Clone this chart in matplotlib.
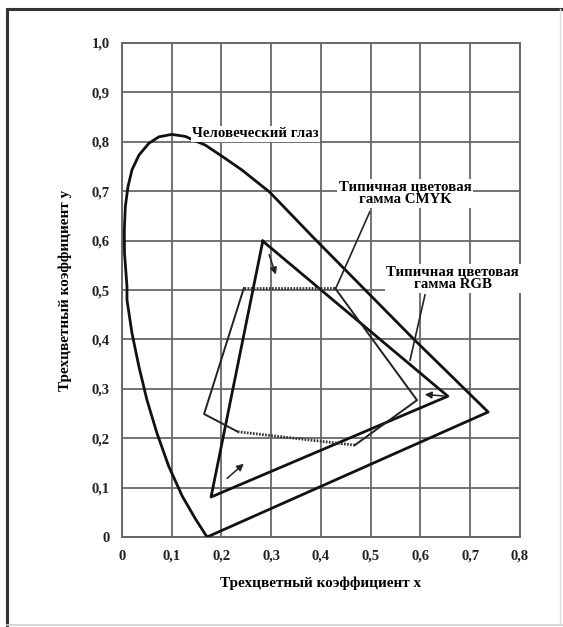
#!/usr/bin/env python3

"""CIE xy diagram with typical RGB and CMYK gamuts."""

import matplotlib.pyplot as plt
from matplotlib.patches import FancyArrowPatch

plt.rcParams["font.family"] = ["Liberation Serif", "DejaVu Serif"]
plt.rcParams["font.weight"] = "bold"

# spectral locus, closed by the purple line
locus_x = [0.171, 0.148, 0.121, 0.094, 0.070, 0.050, 0.034, 0.020, 0.010, 0.010,
           0.005, 0.0047, 0.0067, 0.012, 0.020, 0.034, 0.054, 0.074, 0.100, 0.127,
           0.168, 0.208, 0.241, 0.297, 0.384, 0.585, 0.736, 0.171]
locus_y = [0.0, 0.036, 0.083, 0.143, 0.211, 0.278, 0.345, 0.413, 0.48, 0.507,
           0.575, 0.622, 0.669, 0.709, 0.743, 0.773, 0.797, 0.81, 0.815, 0.811,
           0.793, 0.766, 0.743, 0.698, 0.607, 0.402, 0.253, 0.0]

# RGB triangle
rgb_x = [0.283, 0.655, 0.179, 0.283]
rgb_y = [0.599, 0.285, 0.081, 0.599]

# CMYK polygon: solid and dotted parts
cmyk_solid_x = [0.428, 0.593, 0.468]
cmyk_solid_y = [0.504, 0.277, 0.186]
cmyk_solid2_x = [0.233, 0.165, 0.245]
cmyk_solid2_y = [0.213, 0.249, 0.504]
cmyk_dot_x = [[0.245, 0.428], [0.468, 0.233]]
cmyk_dot_y = [[0.504, 0.504], [0.186, 0.213]]

# arrows (start, end)
arrows = [((0.294, 0.577), (0.311, 0.526)),
          ((0.207, 0.115), (0.249, 0.152)),
          ((0.653, 0.285), (0.603, 0.289))]

xticks = [0, 0.1, 0.2, 0.3, 0.4, 0.5, 0.6, 0.7, 0.8]
xlabs = ["0", "0,1", "0,2", "0,3", "0,4", "0,5", "0,6", "0,7", "0,8"]
yticks = [0, 0.1, 0.2, 0.3, 0.4, 0.5, 0.6, 0.7, 0.8, 0.9, 1.0]
ylabs = ["0", "0,1", "0,2", "0,3", "0,4", "0,5", "0,6", "0,7", "0,8", "0,9", "1,0"]

gridc = "#6e6464"

fig = plt.figure(figsize=(5.63, 6.27), dpi=100)
ax = fig.add_axes([0.2167, 0.1435, 0.7069, 0.7879])
ax.set_xlim(0, 0.8)
ax.set_ylim(0, 1.0)

ax.set_xticks(xticks)
ax.set_xticklabels(xlabs)
ax.set_yticks(yticks)
ax.set_yticklabels(ylabs)
ax.tick_params(length=0, labelsize=10.5, pad=9, colors="#222222")
ax.grid(True, color=gridc, lw=1.3)
ax.set_axisbelow(True)
for s in ax.spines.values():
    s.set_color(gridc)
    s.set_linewidth(1.4)

ax.plot(locus_x, locus_y, color="#111111", lw=2.0, solid_joinstyle="round", zorder=3)
ax.plot(rgb_x, rgb_y, color="#111111", lw=2.0, zorder=3)
ax.plot(cmyk_solid_x, cmyk_solid_y, color="#222222", lw=1.4, zorder=3)
ax.plot(cmyk_solid2_x, cmyk_solid2_y, color="#222222", lw=1.4, zorder=3)
for xs, ys in zip(cmyk_dot_x, cmyk_dot_y):
    ax.plot(xs, ys, color="#333333", lw=2.0, ls=(0, (0.6, 0.5)), zorder=3)

for (x0, y0), (x1, y1) in arrows:
    ax.add_patch(FancyArrowPatch((x0, y0), (x1, y1), arrowstyle="-|>,head_length=4,head_width=2",
                                 color="#222222", lw=1.1, zorder=4))

# leader lines
ax.plot([0.498, 0.43], [0.658, 0.504], color="#222222", lw=1.2, zorder=3)
ax.plot([0.609, 0.579], [0.49, 0.358], color="#222222", lw=1.2, zorder=3)

box = dict(facecolor="white", edgecolor="none", pad=1)
ax.text(0.141, 0.816, "Человеческий глаз", fontsize=10.7, ha="left", va="center",
        bbox=box, zorder=5)
ax.text(0.569, 0.696, "Типичная цветовая\nгамма CMYK", fontsize=10.7, ha="center",
        va="center", linespacing=1.0, bbox=box, zorder=5)
ax.text(0.665, 0.524, "Типичная цветовая\nгамма RGB", fontsize=10.7, ha="center",
        va="center", linespacing=1.0, bbox=box, zorder=5)

ax.set_xlabel("Трехцветный коэффициент x", fontsize=11, fontweight="bold", labelpad=10)
ax.set_ylabel("Трехцветный коэффициент y", fontsize=11, fontweight="bold", labelpad=14)

# outer frame of the scanned figure
fig.add_artist(plt.Line2D([7 / 563, 7 / 563], [2 / 627, 1 - 9 / 627],
                          transform=fig.transFigure, color="#333333", lw=2.2))
fig.add_artist(plt.Line2D([7 / 563, 1], [1 - 9 / 627, 1 - 9 / 627],
                          transform=fig.transFigure, color="#333333", lw=2.2))
fig.add_artist(plt.Line2D([7 / 563, 1], [2 / 627, 2 / 627],
                          transform=fig.transFigure, color="#cfcfcf", lw=1.2))
fig.add_artist(plt.Line2D([560 / 563, 560 / 563], [2 / 627, 1 - 9 / 627],
                          transform=fig.transFigure, color="#dddddd", lw=1.0))

plt.savefig("out.png", dpi=100)
